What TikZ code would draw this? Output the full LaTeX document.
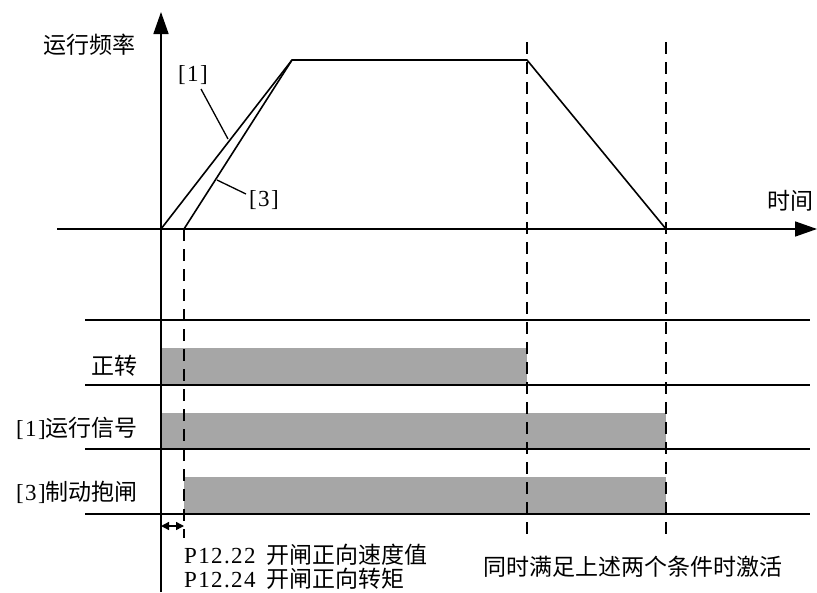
\documentclass[tikz,border=0pt]{standalone}
\usepackage{fontspec}
\setmainfont{Noto Sans CJK SC}
\newfontfamily\hw[LetterSpace=6]{Liberation Serif}
\usetikzlibrary{arrows.meta}
\definecolor{bargray}{RGB}{166,166,166}
\newcommand{\lat}[1]{{\hw\fontsize{23}{26}\selectfont #1}}
\tikzset{
  axis/.style={line width=1.6pt,-{Triangle[length=22pt,width=15pt]}},
  curve/.style={line width=1.6pt,line join=round},
  rule/.style={line width=1.5pt},
  dash line/.style={line width=1.5pt,dash pattern=on 12pt off 8pt},
  bar/.style={fill=bargray,draw=none},
  lbl/.style={font=\fontsize{23}{26}\selectfont,inner sep=0pt},
  leader/.style={line width=1.3pt}
}
\begin{document}
\begin{tikzpicture}[x=1pt,y=-1pt]
\useasboundingbox (0,0) rectangle (817,592);
% bars
\fill[bar] (161,348) rectangle (527,385);
\fill[bar] (161,413) rectangle (666,449);
\fill[bar] (184,477) rectangle (666,514);
% horizontal rules
\foreach \yy in {320,385,449,514} \draw[rule] (85,\yy) -- (810,\yy);
% dashed lines
\draw[dash line] (184,229) -- (184,538);
\draw[dash line] (527,42) -- (527,538);
\draw[dash line] (666,42) -- (666,538);
% axes
\coordinate (ybot) at (161,592);
\coordinate (ytop) at (161,12);
\coordinate (xl) at (57,229);
\coordinate (xr) at (817,229);
\draw[axis] (ybot) -- (ytop);
\draw[axis] (xl) -- (xr);
% curves
\coordinate (o) at (161,229);
\coordinate (o3) at (184,229);
\coordinate (p1) at (292,60);
\coordinate (p2) at (527,60);
\coordinate (p3) at (666,229);
\draw[curve] (o) -- (p1) -- (p2) -- (p3);
\draw[curve] (o3) -- (p1);
% labels on curves
\node[lbl] (l1) at (193,75) {\lat{[1]}};
\node[lbl] (l3) at (264,200) {\lat{[3]}};
\coordinate (l1a) at (201,89);
\coordinate (l1b) at (228,139);
\coordinate (l3a) at (217,180);
\coordinate (l3b) at (246,194);
\draw[leader] (l1a) -- (l1b);
\draw[leader] (l3a) -- (l3b);
% axis labels
\node[lbl] (fq) at (89,45) {运行频率};
\node[lbl] (tm) at (790,201) {时间};
% row labels
\node[lbl,anchor=east] (r1) at (138,366) {正转};
\node[lbl,anchor=east] (r2) at (138,428) {\lat{[1]}运行信号};
\node[lbl,anchor=east] (r3) at (138,492) {\lat{[3]}制动抱闸};
% double arrow
\coordinate (da) at (161,526);
\coordinate (db) at (184,526);
\draw[line width=1.4pt,{Triangle[length=8pt,width=8pt]}-{Triangle[length=8pt,width=8pt]}] (da) -- (db);
% bottom texts
\node[lbl,anchor=west] (t1) at (184,555) {\lat{P12.22}\hspace{11pt}开闸正向速度值};
\node[lbl,anchor=west] (t2) at (184,579) {\lat{P12.24}\hspace{11pt}开闸正向转矩};
\node[lbl] (t3) at (633,567) {同时满足上述两个条件时激活};
\end{tikzpicture}
\end{document}
